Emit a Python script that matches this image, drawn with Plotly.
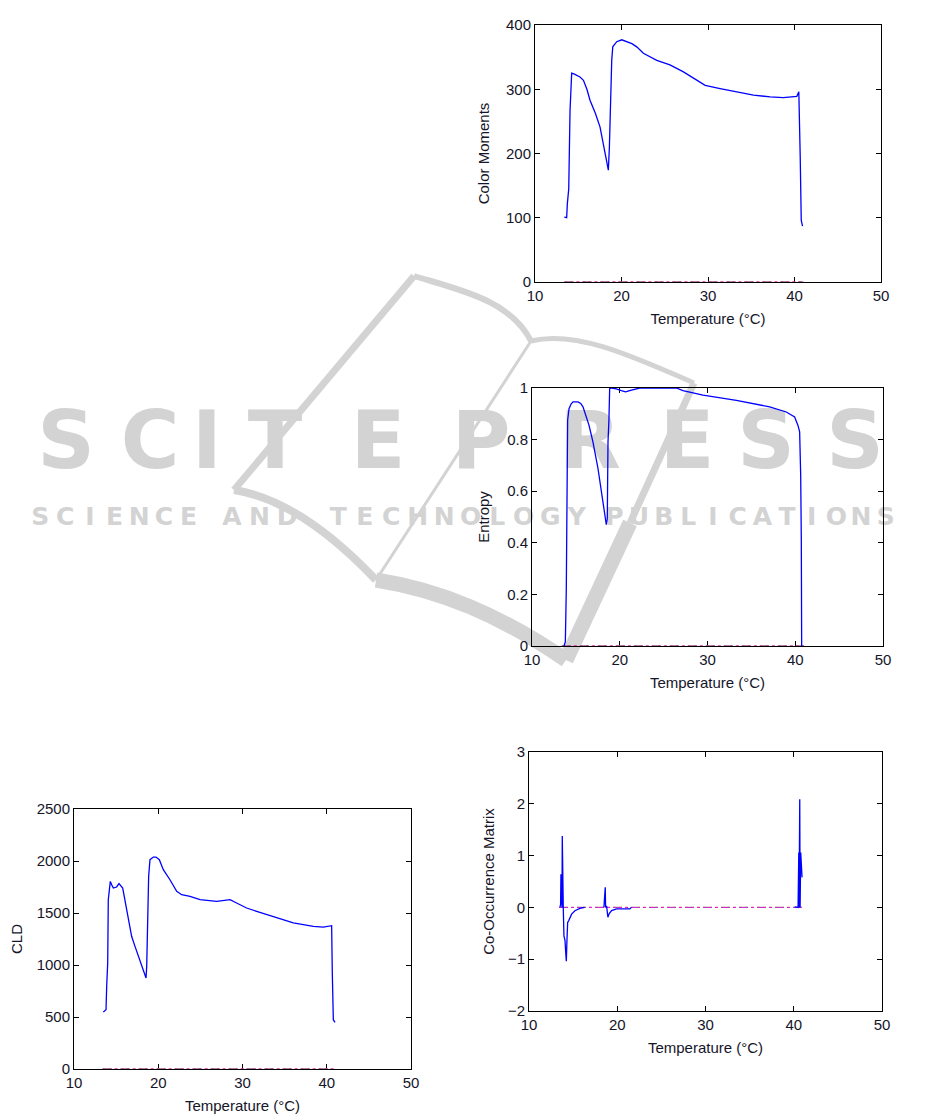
import plotly.graph_objects as go

# ---------------- data ----------------
cm_temp = [13.39, 13.66, 13.74, 13.9, 14.05, 14.17, 14.24, 14.5, 14.82, 15.2, 15.6, 16.0, 16.36, 17.0, 17.52,
           17.9, 18.3, 18.48, 18.6, 18.75, 18.87, 18.99, 19.45, 20.03, 20.6, 21.2, 21.76, 22.53, 24.08,
           25.6, 27.16, 28.7, 29.67, 31.4, 33.3, 35.26, 37.19, 38.7, 40.27, 40.5, 40.66, 40.78, 40.93]
cm_vals = [101, 100, 122, 145, 267, 319, 325, 324, 322, 319, 314, 300, 283, 262, 241,
           216, 190, 174, 210, 293, 345, 366, 374, 377, 374, 371, 366, 356, 345,
           338, 327, 314, 306, 301, 296, 291, 288, 287, 289, 296, 195, 96, 87]

ent_temp = [13.65, 13.8, 13.91, 13.99, 14.06, 14.22, 14.45, 14.67, 15.24, 15.55, 15.81, 16.5, 16.95, 17.52,
            18.09, 18.47, 18.58, 18.66, 18.77, 18.85, 19.04, 19.61, 20.18, 20.67, 21.13, 21.89, 22.27,
            26.45, 27.2, 29.49, 33.29, 37.08, 38.98, 39.93, 40.31, 40.5, 40.62, 40.69, 40.73]
ent_vals = [0.0, 0.017, 0.223, 0.636, 0.875, 0.92, 0.938, 0.946, 0.946, 0.94, 0.927, 0.855, 0.79, 0.688,
            0.559, 0.47, 0.494, 0.79, 0.88, 0.997, 1.0, 0.997, 0.99, 0.985, 0.99, 0.997, 1.0,
            1.0, 0.99, 0.972, 0.952, 0.927, 0.907, 0.888, 0.855, 0.83, 0.662, 0.417, 0.0]

cld_temp = [13.48, 13.8, 13.88, 14.0, 14.07, 14.19, 14.31, 14.47, 14.67, 15.06, 15.34, 15.78, 16.05, 16.45,
            16.84, 17.24, 17.64, 18.03, 18.43, 18.55, 18.63, 18.74, 18.86, 19.02, 19.42, 19.73, 20.13,
            20.6, 21.39, 22.19, 22.78, 23.77, 24.96, 26.93, 28.52, 29.3, 30.49, 31.68, 32.87, 34.85,
            36.03, 37.22, 38.41, 39.59, 40.58, 40.66, 40.78, 40.98]
cld_vals = [548, 570, 795, 1019, 1628, 1756, 1804, 1772, 1740, 1750, 1782, 1740, 1628, 1436,
            1276, 1179, 1083, 987, 891, 875, 987, 1372, 1853, 2013, 2038, 2038, 2013,
            1917, 1820, 1708, 1676, 1660, 1628, 1612, 1628, 1596, 1548, 1516, 1484, 1436,
            1404, 1388, 1372, 1365, 1378, 923, 474, 449]

# None = gaps where only the zero reference line is visible
com_temp = [13.51, 13.58, 13.62, 13.66, 13.74, 13.77, 13.81, 13.89, 13.96, 14.08, 14.15, 14.23, 14.3, 14.38,
            14.49, 14.83, 15.2, 15.77, 16.3, None, 18.49, 18.57, 18.64, 18.68, 18.79, 18.94, 19.09, 19.36,
            19.92, 21.43, 21.6, None, 40.11, 40.49, 40.57, 40.6, 40.68, 40.72, 40.79, 40.87, 40.94]
com_vals = [0.0, 0.06, 0.64, 0.0, 0.0, 1.38, 0.0, -0.06, -0.55, -0.64, -0.84, -1.04, -0.64, -0.29,
            -0.26, -0.13, -0.064, -0.02, 0.0, None, 0.0, 0.39, 0.39, 0.0, 0.03, -0.19, -0.12, -0.06,
            -0.03, -0.03, 0.0, None, 0.01, 0.0, 1.06, 0.0, 2.09, 0.0, 1.06, 0.58, 0.58]

zero_temp = [13.4, 41.0]
zero_vals = [0, 0]

x_ticks = [10, 20, 30, 40, 50]
x_title = "Temperature (°C)"

# ---------------- figure ----------------
# page has an 8px body margin: positions below are measured in reference pixels
OFF = 8
W, H = 925 - OFF, 1118 - OFF
fig = go.Figure()
WM = "#d3d3d3"


def px(x):
    return (x - OFF) / W


def py(y):
    return 1 - (y - OFF) / H


# --- watermark text on a background subplot (drawn first, below curves) ---
big_letters = list("SCITEPRESS")
big_centers = [66, 150, 207, 275, 378, 481, 590, 687, 766, 855]
fig.add_trace(go.Scatter(x=big_centers, y=[448] * len(big_letters), text=big_letters,
                         mode="text", xaxis="x", yaxis="y", hoverinfo="skip", showlegend=False,
                         textposition="middle center",
                         textfont=dict(family="DejaVu Sans", size=80, weight="bold", color=WM)))

small_words = [("SCIENCE", 28, 201), ("AND", 218, 301), ("TECHNOLOGY", 325, 590),
               ("PUBLICATIONS", 602, 898)]
s_chars, s_x = [], []
for word, x0, x1 in small_words:
    step = (x1 - x0) / len(word)
    for k, ch in enumerate(word):
        s_chars.append(ch)
        s_x.append(x0 + (k + 0.5) * step)
fig.add_trace(go.Scatter(x=s_x, y=[519] * len(s_chars), text=s_chars,
                         mode="text", xaxis="x", yaxis="y", hoverinfo="skip", showlegend=False,
                         textposition="middle center",
                         textfont=dict(family="DejaVu Sans", size=25, weight="bold", color=WM)))

BLUE = "#0000ff"
panels = [
    # (xaxis, yaxis, temps, vals, x-domain px, y-domain px, y-range, dtick, title, standoff)
    ("x2", "y2", cm_temp, cm_vals, (535, 881), (25, 282), [0, 400], 100, "Color Moments", 12),
    ("x3", "y3", ent_temp, ent_vals, (532, 883), (388, 646), [0, 1], 0.2, "Entropy", 13),
    ("x4", "y4", cld_temp, cld_vals, (74, 411), (809, 1069), [0, 2500], 500, "CLD", 14),
    ("x5", "y5", com_temp, com_vals, (529, 882), (752, 1011), [-2, 3], 1, "Co-Occurrence Matrix", 9),
]

zero_colors = [("#ff2020", "dot"), ("#00c000", "dash"), ("#e020e0", "dashdot")]

tickfont = dict(family="Liberation Sans, Arial, sans-serif", size=15, color="#15152a")
titlefont = dict(family="Liberation Sans, Arial, sans-serif", size=15, color="#15152a")

layout_axes = {
    "xaxis": dict(domain=[0, 1], range=[OFF, 925], visible=False, fixedrange=True, automargin=False),
    "yaxis": dict(domain=[0, 1], range=[1118, OFF], visible=False, fixedrange=True, automargin=False),
}
for xa, ya, t, v, xd, yd, yr, dt, title, so in panels:
    for col, dash in zero_colors:
        fig.add_trace(go.Scatter(x=zero_temp, y=zero_vals, xaxis=xa, yaxis=ya, mode="lines",
                                 line=dict(color=col, width=1, dash=dash), hoverinfo="skip",
                                 showlegend=False))
    fig.add_trace(go.Scatter(x=t, y=v, xaxis=xa, yaxis=ya, mode="lines", connectgaps=False,
                             line=dict(color=BLUE, width=1.3), showlegend=False))
    xkey = "xaxis" + xa[1:]
    ykey = "yaxis" + ya[1:]
    layout_axes[xkey] = dict(
        domain=[px(xd[0]), px(xd[1])], range=[10, 50], tickvals=x_ticks,
        anchor=ya, showline=True, linecolor="black", linewidth=1, mirror="ticks",
        ticks="inside", ticklen=5, tickcolor="black", showgrid=False, zeroline=False,
        tickfont=tickfont, title=dict(text=x_title, font=titlefont, standoff=10),
        layer="below traces", automargin=False)
    layout_axes[ykey] = dict(
        domain=[py(yd[1]), py(yd[0])], range=yr, dtick=dt, tick0=yr[0],
        anchor=xa, showline=True, linecolor="black", linewidth=1, mirror="ticks",
        ticks="inside", ticklen=5, tickcolor="black", showgrid=False, zeroline=False,
        tickfont=tickfont, title=dict(text=title, font=titlefont, standoff=so),
        layer="below traces", automargin=False)

# --- watermark book logo (decoration) ---


def P(x, y):
    return f"{px(x):.5f},{py(y):.5f}"


wm_paths = [
    ("M " + P(234, 490) + " L " + P(414, 276), 7),
    ("M " + P(414, 276) + " C " + P(460, 290) + " " + P(510, 300) + " " + P(531, 341), 6),
    ("M " + P(531, 341) + " C " + P(575, 330) + " " + P(630, 355) + " " + P(694, 383), 5),
    ("M " + P(531, 341) + " L " + P(376, 580), 3),
    ("M " + P(234, 490) + " Q " + P(300, 500) + " " + P(376, 580), 8),
    ("M " + P(376, 580) + " C " + P(440, 590) + " " + P(500, 615) + " " + P(566, 660), 15),
    ("M " + P(566, 660) + " L " + P(630, 523), 15),
    ("M " + P(630, 523) + " L " + P(694, 383), 7),
]
for path, w in wm_paths:
    fig.add_shape(type="path", path=path, xref="paper", yref="paper",
                  line=dict(color=WM, width=w), layer="below")

fig.update_layout(
    width=W, height=H, margin=dict(l=0, r=0, t=0, b=0, autoexpand=False),
    paper_bgcolor="white", plot_bgcolor="rgba(0,0,0,0)",
    showlegend=False, **layout_axes)

fig.write_html("out.html")
